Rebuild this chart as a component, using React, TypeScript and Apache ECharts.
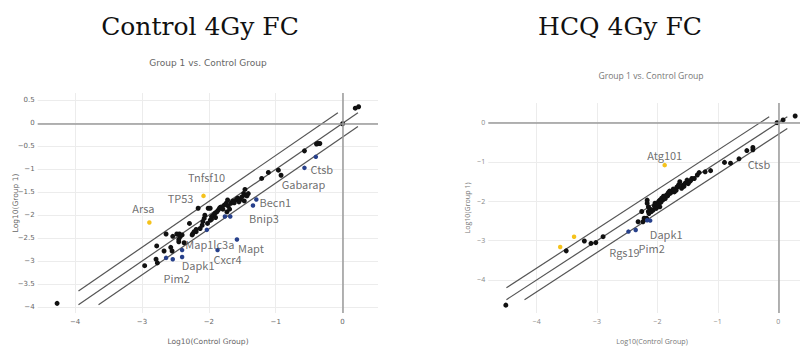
import React, { useEffect, useRef } from "react";
import * as echarts from "echarts";

// ---------------- DATA ----------------
const leftTitle = "Control 4Gy FC";
const rightTitle = "HCQ 4Gy FC";
const subTitle = "Group 1 vs. Control Group";
const xName = "Log10(Control Group)";
const yName = "Log10(Group 1)";

const leftXTicks = [-4, -3, -2, -1, 0];
const leftYTicks = [-4, -3.5, -3, -2.5, -2, -1.5, -1, -0.5, 0, 0.5];
const rightXTicks = [-4, -3, -2, -1, 0];
const rightYTicks = [-4, -3, -2, -1, 0];

const foldThreshold = 0.3; // log10(2)
const leftLineRange = [-3.95, 0.23];
const rightLineRange = [-4.5, 0.15];

const leftBlack: [number, number][] = [
  [-4.27, -3.92], [-2.96, -3.1], [-2.79, -2.96], [-2.77, -3.04], [-2.78, -2.67],
  [-2.67, -2.78], [-2.64, -2.41], [-2.57, -2.7], [-2.55, -2.78], [-2.54, -2.46],
  [-2.48, -2.41], [-2.44, -2.41], [-2.43, -2.47], [-2.45, -2.53], [-2.45, -2.58],
  [-2.4, -2.43], [-2.37, -2.6], [-2.29, -2.18], [-2.25, -2.43], [-2.24, -2.4],
  [-2.22, -2.36], [-2.19, -2.36], [-2.19, -2.31], [-2.16, -1.85], [-2.13, -2.29],
  [-2.1, -2.22], [-2.09, -2.14], [-2.07, -2.07], [-2.06, -2.0], [-2.01, -1.85],
  [-1.98, -1.85], [-2.02, -2.18], [-1.98, -2.11], [-1.96, -2.09], [-1.96, -2.03],
  [-1.93, -2.0], [-1.91, -1.96], [-1.9, -2.05], [-1.88, -1.93], [-1.86, -1.89],
  [-1.84, -1.85], [-1.83, -1.83], [-1.81, -1.82], [-1.79, -1.87], [-1.77, -1.78],
  [-1.74, -1.74], [-1.73, -1.93], [-1.72, -1.67], [-1.71, -1.8], [-1.69, -1.87],
  [-1.67, -1.74], [-1.64, -1.69], [-1.62, -1.73], [-1.59, -1.66], [-1.57, -1.63],
  [-1.55, -1.71], [-1.53, -1.66], [-1.51, -1.61], [-1.48, -1.53], [-1.46, -1.56],
  [-1.43, -1.58], [-1.41, -1.53], [-1.47, -1.69], [-1.46, -1.44], [-1.21, -1.2],
  [-1.11, -1.07], [-0.96, -1.02], [-0.92, -1.13], [-0.57, -0.6], [-0.39, -0.45],
  [-0.37, -0.44], [-0.34, -0.44], [0.0, -0.01], [0.19, 0.33], [0.24, 0.36],
];
const leftUp: [number, number][] = [[-2.89, -2.16], [-2.08, -1.58]];
const leftDown: [number, number][] = [
  [-2.64, -2.93], [-2.54, -2.96], [-2.4, -2.76], [-2.4, -2.91], [-2.03, -2.32],
  [-1.87, -2.76], [-1.58, -2.53], [-1.76, -2.03], [-1.68, -2.03], [-1.29, -1.66],
  [-1.34, -1.79], [-0.57, -0.97], [-0.4, -0.73],
];
const leftLabelNames = ["Arsa", "Tnfsf10", "TP53", "Map1lc3a", "Mapt", "Cxcr4", "Dapk1", "Pim2", "Becn1", "Bnip3", "Ctsb", "Gabarap"];
const leftLabelRefs: [string, number][] = [
  ["up", 0], ["up", 1], ["up", 1], ["down", 4], ["down", 6], ["down", 5],
  ["down", 3], ["down", 1], ["down", 9], ["down", 10], ["down", 12], ["down", 11],
];

const rightBlack: [number, number][] = [
  [-4.51, -4.64], [-3.51, -3.26], [-3.21, -3.01], [-3.1, -3.07], [-3.02, -3.05],
  [-2.9, -2.9], [-2.32, -2.52], [-2.22, -2.43], [-2.19, -2.46], [-2.17, -1.97],
  [-2.15, -2.14], [-2.15, -2.26], [-2.14, -2.31], [-2.18, -2.43], [-2.24, -2.52],
  [-2.26, -2.26], [-2.17, -2.05], [-2.12, -2.2], [-2.1, -2.26], [-2.07, -2.22],
  [-2.05, -2.12], [-2.02, -2.18], [-2.04, -2.05], [-2.01, -2.14], [-1.98, -2.0],
  [-1.96, -2.14], [-1.99, -2.09], [-1.97, -2.05], [-1.96, -1.97], [-1.94, -2.02],
  [-1.93, -1.92], [-1.92, -1.97], [-1.9, -1.87], [-1.9, -1.95], [-1.88, -1.88],
  [-1.87, -1.93], [-1.85, -1.84], [-1.83, -1.86], [-1.82, -1.78], [-1.8, -1.74],
  [-1.79, -1.8], [-1.76, -1.76], [-1.74, -1.69], [-1.72, -1.76], [-1.71, -1.71],
  [-1.69, -1.72], [-1.68, -1.64], [-1.66, -1.63], [-1.65, -1.58], [-1.63, -1.5],
  [-1.6, -1.67], [-1.58, -1.59], [-1.56, -1.62], [-1.54, -1.54], [-1.51, -1.46],
  [-1.49, -1.55], [-1.47, -1.5], [-1.45, -1.47], [-1.43, -1.42], [-1.39, -1.42],
  [-1.34, -1.33], [-1.31, -1.27], [-1.21, -1.25], [-1.12, -1.22], [-0.89, -1.01],
  [-0.79, -1.03], [-0.65, -0.92], [-0.52, -0.71], [-0.42, -0.63], [-0.42, -0.69],
  [-0.02, 0.0], [0.08, 0.07], [0.28, 0.17],
];
const rightUp: [number, number][] = [[-3.61, -3.16], [-3.38, -2.9], [-1.88, -1.08]];
const rightDown: [number, number][] = [[-2.48, -2.77], [-2.36, -2.73], [-2.12, -2.49], [-2.17, -2.48]];
const rightLabelNames = ["Atg101", "Ctsb", "Dapk1", "Pim2", "Rgs19"];
const rightLabelRefs: [string, number][] = [["up", 2], ["black", 66], ["down", 2], ["down", 1], ["down", 0]];

// ---------------- STYLE ----------------
const leftLabelOffsets: [number, number][] = [
  [-6, -15], [3, -19], [-23, 2], [3, 14], [14, 8], [10, 9],
  [16, 8], [4, 19], [19, 2], [11, 12], [6, 12], [-1, 16],
];
const rightLabelOffsets: [number, number][] = [[0, -10], [20, 5], [16, 13], [16, 18], [-4, 20]];

const COL_BLACK = "#111111";
const COL_UP = "#f5c21b";
const COL_DOWN = "#27408b";
const LABEL_FONT = '"Noto Sans CJK JP", "Noto Sans", sans-serif';

const fmtMinus = (v: number) => String(v).replace("-", "\u2212");

function makeLines(range: number[], t: number, xi: number) {
  const [a, b] = range;
  const segs = [
    [[a, a + t], [b - t, b]],
    [[a, a], [b, b]],
    [[a + t, a], [b, b - t]],
  ];
  return segs.map((d) => ({
    type: "line",
    xAxisIndex: xi,
    yAxisIndex: xi,
    data: d,
    symbol: "none",
    silent: true,
    lineStyle: { color: "#555", width: 1.2 },
    z: 2,
  }));
}

function labelSeries(names: string[], refs: [string, number][], offsets: [number, number][], sets: Record<string, [number, number][]>, xi: number) {
  return {
    type: "scatter",
    xAxisIndex: xi,
    yAxisIndex: xi,
    symbolSize: 1,
    itemStyle: { color: "rgba(0,0,0,0)" },
    silent: true,
    z: 5,
    data: names.map((n, i) => ({
      name: n,
      value: sets[refs[i][0]][refs[i][1]],
      label: {
        show: true,
        position: "inside",
        offset: offsets[i],
        formatter: n,
        fontFamily: LABEL_FONT,
        fontSize: 11,
        lineHeight: 11,
        color: "#4a4a4a",
      },
    })),
  };
}

function pointSeries(data: [number, number][], color: string, size: number, xi: number) {
  return {
    type: "scatter",
    xAxisIndex: xi,
    yAxisIndex: xi,
    data,
    symbolSize: size,
    itemStyle: { color, opacity: 1 },
    z: 4,
  };
}

function zeroLines(xi: number) {
  return {
    type: "line",
    xAxisIndex: xi,
    yAxisIndex: xi,
    data: [],
    markLine: {
      silent: true,
      symbol: "none",
      label: { show: false },
      lineStyle: { color: "#9a9a9a", width: 1.5, type: "solid" },
      data: [{ xAxis: 0 }, { yAxis: 0 }],
    },
    z: 1,
  };
}

function valAxis(grid: number, min: number, max: number, ticks: number[], font: string, color: string, isX: boolean) {
  return {
    type: "value",
    gridIndex: grid,
    min,
    max,
    axisLine: { show: false },
    axisTick: { show: false, customValues: ticks },
    axisLabel: {
      customValues: ticks,
      formatter: fmtMinus,
      fontFamily: font,
      fontSize: 7,
      color,
      margin: isX ? 5 : 3,
    },
    splitLine: { show: true, lineStyle: { color: "#ececec", width: 1 } },
  };
}

function txt(text: string, x: number, y: number, font: string, fill: string, rotation = 0) {
  return {
    type: "text",
    x,
    y,
    rotation,
    silent: true,
    style: {
      text,
      font,
      fill,
      textAlign: "center",
      textVerticalAlign: "middle",
      align: "center",
      verticalAlign: "middle",
    },
  };
}

export default function App() {
  const ref = useRef<HTMLDivElement>(null);
  useEffect(() => {
    if (!ref.current) return;
    const chart = echarts.init(ref.current, undefined, { renderer: "svg" });
    const leftSets = { black: leftBlack, up: leftUp, down: leftDown };
    const rightSets = { black: rightBlack, up: rightUp, down: rightDown };
    const lf = '"DejaVu Sans", sans-serif';
    const rf = '"Open Sans", sans-serif';
    chart.setOption({
      animation: false,
      backgroundColor: "#ffffff",
      grid: [
        { left: 37.7, top: 93, width: 340.3, height: 220 },
        { left: 488.3, top: 103, width: 311.7, height: 210 },
      ],
      xAxis: [
        valAxis(0, -4.56, 0.53, leftXTicks, lf, "#666", true),
        valAxis(1, -4.8, 0.36, rightXTicks, rf, "#888", true),
      ],
      yAxis: [
        valAxis(0, -4.13, 0.66, leftYTicks, lf, "#666", false),
        valAxis(1, -4.84, 0.5, rightYTicks, rf, "#888", false),
      ],
      graphic: [
        txt(leftTitle, 200, 26, '25px "DejaVu Serif", serif', "#111"),
        txt(rightTitle, 620, 26, '25px "DejaVu Serif", serif', "#111"),
        txt(subTitle, 208, 63, '9px "DejaVu Sans", sans-serif', "#666"),
        txt(subTitle, 651, 76, '8.6px "Open Sans", sans-serif', "#777"),
        txt(xName, 208, 341, '7.5px "DejaVu Sans", sans-serif', "#666"),
        txt(xName, 652, 341, '7.1px "Open Sans", sans-serif', "#777"),
        txt(yName, 15, 203, '7.5px "DejaVu Sans", sans-serif', "#666", Math.PI / 2),
        txt(yName, 467, 208, '7.1px "Open Sans", sans-serif', "#777", Math.PI / 2),
      ],
      series: [
        zeroLines(0),
        zeroLines(1),
        ...makeLines(leftLineRange, foldThreshold, 0),
        ...makeLines(rightLineRange, foldThreshold, 1),
        pointSeries(leftBlack, COL_BLACK, 5, 0),
        pointSeries(leftUp, COL_UP, 4.5, 0),
        pointSeries(leftDown, COL_DOWN, 4.5, 0),
        pointSeries(rightBlack, COL_BLACK, 5, 1),
        pointSeries(rightUp, COL_UP, 4.5, 1),
        pointSeries(rightDown, COL_DOWN, 4.5, 1),
        labelSeries(leftLabelNames, leftLabelRefs, leftLabelOffsets, leftSets, 0),
        labelSeries(rightLabelNames, rightLabelRefs, rightLabelOffsets, rightSets, 1),
      ],
    });
    return () => chart.dispose();
  }, []);
  return (
    <div
      ref={ref}
      style={{ position: "fixed", left: 0, top: 0, width: 801, height: 347, background: "#fff" }}
    />
  );
}
